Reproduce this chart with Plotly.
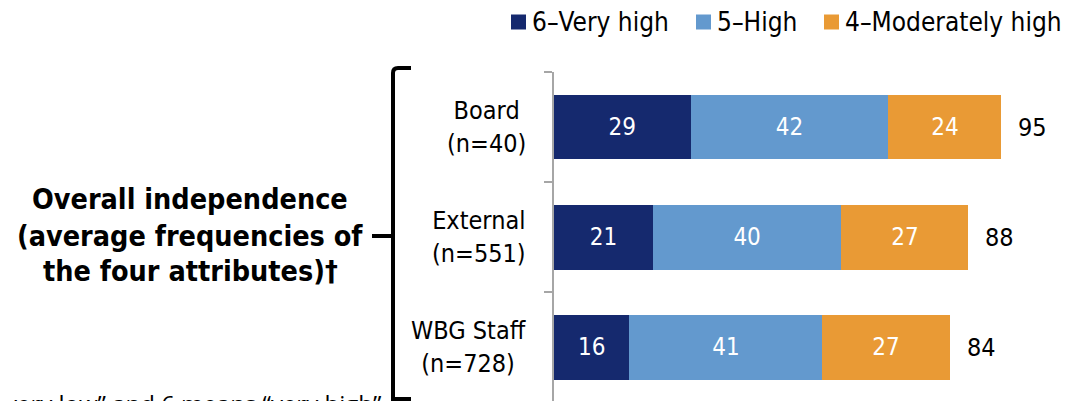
import plotly.graph_objects as go

# ---------------- data ----------------
categories = ["Board", "External", "WBG Staff"]
n_labels = ["(n=40)", "(n=551)", "(n=728)"]
very_high = [29, 21, 16]
high = [42, 40, 41]
moderately_high = [24, 27, 27]
totals = [95, 88, 84]
series_names = ["6–Very high", "5–High", "4–Moderately high"]
group_title = ["Overall independence", "(average frequencies of", "the four attributes)†"]
footnote = "Scale from 1 to 6, where 1 means “very low” and 6 means “very high”"

# ---------------- styling ----------------
# the page body has an 8px margin, so the figure is 8px smaller and all
# positions below are given in window pixels and converted.
OFF = 8
W, H = 1069 - OFF, 401 - OFF
colors = ["#15296E", "#6399CE", "#E99A35"]
FONT = "DejaVu Sans Condensed, DejaVu Sans"


def px(x):
    return (x - OFF) / W


def py(y):
    return 1 - (y - OFF) / H


fig = go.Figure()
for name, vals, col in zip(series_names, [very_high, high, moderately_high], colors):
    fig.add_trace(go.Bar(
        name=name, y=categories, x=vals, orientation="h",
        marker=dict(color=col, line=dict(width=0)),
        width=0.59,
        text=[str(v) for v in vals], textposition="inside", insidetextanchor="middle",
        textfont=dict(color="white", size=24, family=FONT),
        hoverinfo="skip", showlegend=False,
    ))

# totals
for cat, t in zip(categories, totals):
    fig.add_annotation(x=t, y=cat, xref="x", yref="y", text=str(t), showarrow=False,
                       xanchor="left", xshift=15, font=dict(size=25, color="black", family=FONT))

# category labels (two-line block, lines centered, block right-aligned)
for cat, nl in zip(categories, n_labels):
    fig.add_annotation(x=px(528), y=cat, xref="paper", yref="y", text=cat + "<br>" + nl,
                       showarrow=False, xanchor="right", yanchor="middle", align="center",
                       font=dict(size=25, color="black", family=FONT))

# group title
for line, yy in zip(group_title, [200, 236, 271]):
    fig.add_annotation(x=px(190), y=py(yy), xref="paper", yref="paper", text="<b>" + line + "</b>",
                       showarrow=False, xanchor="center", yanchor="middle",
                       font=dict(size=28.5, color="black", family=FONT))

# bracket
path = (f"M {px(411)},{py(68)} L {px(398)},{py(68)} Q {px(393)},{py(68)} {px(393)},{py(73)} "
        f"L {px(393)},{py(399)} L {px(411)},{py(399)} "
        f"M {px(372)},{py(236)} L {px(393)},{py(236)}")
fig.add_shape(type="path", path=path, xref="paper", yref="paper",
              line=dict(color="black", width=4))

# footnote (mostly cut off at the bottom)
fig.add_annotation(x=px(384), y=py(403), xref="paper", yref="paper", text=footnote, showarrow=False,
                   xanchor="right", yanchor="middle", font=dict(size=24, color="black", family="Open Sans"))

# manual legend
leg_sq = [511, 696, 824]
for name, col, x0 in zip(series_names, colors, leg_sq):
    fig.add_shape(type="rect", xref="paper", yref="paper", x0=px(x0), x1=px(x0 + 15),
                  y0=py(14.5), y1=py(29.5), fillcolor=col, line=dict(width=0))
    fig.add_annotation(x=px(x0 + 19), y=py(22), xref="paper", yref="paper", text=name, showarrow=False,
                       xanchor="left", yanchor="middle", font=dict(size=26, color="black", family=FONT))

fig.update_layout(
    width=W, height=H, barmode="stack",
    margin=dict(l=0, r=0, t=0, b=0),
    paper_bgcolor="white", plot_bgcolor="white",
    showlegend=False,
    uniformtext=dict(minsize=18, mode="show"),
    xaxis=dict(domain=[px(554), 1], range=[0, 515 / 4.71], visible=False, fixedrange=True),
    yaxis=dict(domain=[0, py(72)], categoryorder="array", categoryarray=categories,
               range=[2.49, -0.5], showline=True, linecolor="#A6A6A6", linewidth=2,
               ticks="outside", tickson="boundaries", ticklen=8, tickcolor="#A6A6A6", tickwidth=2,
               showticklabels=False, showgrid=False, zeroline=False, fixedrange=True),
)

fig.write_html("out.html")
